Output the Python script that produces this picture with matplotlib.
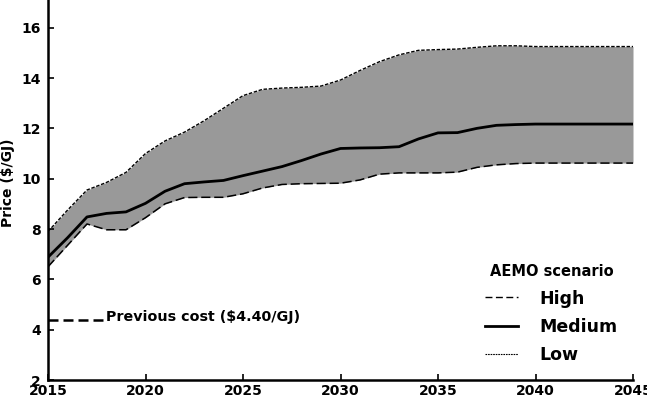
import numpy as np
import matplotlib
matplotlib.use("Agg")
import matplotlib.pyplot as plt
from matplotlib.lines import Line2D

plt.rcParams['font.family'] = ['DejaVu Sans']
plt.rcParams['font.weight'] = 'bold'

# data
years = list(range(2015, 2046))
upper = [7.9, 8.75, 9.55, 9.85, 10.25, 11.0, 11.5, 11.85, 12.3, 12.8,
         13.3, 13.55, 13.6, 13.63, 13.68, 13.92, 14.3, 14.65, 14.92, 15.1,
         15.13, 15.15, 15.22, 15.28, 15.28, 15.25, 15.25, 15.25, 15.25, 15.25, 15.25]
medium = [6.88, 7.65, 8.48, 8.62, 8.68, 9.02, 9.5, 9.8, 9.87, 9.93,
          10.12, 10.3, 10.48, 10.72, 10.98, 11.2, 11.22, 11.23, 11.27, 11.58,
          11.82, 11.83, 12.0, 12.12, 12.15, 12.17, 12.17, 12.17, 12.17, 12.17, 12.17]
lower = [6.5, 7.35, 8.2, 7.97, 7.97, 8.45, 9.0, 9.25, 9.26, 9.26,
         9.4, 9.63, 9.77, 9.8, 9.81, 9.82, 9.95, 10.18, 10.23, 10.23,
         10.23, 10.26, 10.45, 10.55, 10.6, 10.62, 10.62, 10.62, 10.62, 10.62, 10.62]
previous_cost = 4.4
prev_years = [2015, 2017.85]

fig = plt.figure(figsize=(6.47, 3.98), dpi=100)
ax = fig.add_axes([48 / 647, 1 - 380 / 398, 585 / 647, 380 / 398])

ax.fill_between(years, lower, upper, color='#999999', lw=0)
ax.plot(years, upper, color='black', lw=1.0, dashes=(2.5, 1.2))
ax.plot(years, medium, color='black', lw=2.0, solid_capstyle='butt')
ax.plot(years, lower, color='black', lw=1.1, dashes=(6, 2.5))

ax.plot(prev_years, [previous_cost] * 2, color='black', lw=1.8, dashes=(4, 2))
ax.text(2018.0, previous_cost + 0.1, 'Previous cost ($4.40/GJ)', fontsize=10.3,
        fontweight='bold', va='center', ha='left')

ax.set_xlim(2015, 2045)
ax.set_ylim(2, 17.1)
ax.set_xticks([2015, 2020, 2025, 2030, 2035, 2040, 2045])
ax.set_yticks([2, 4, 6, 8, 10, 12, 14, 16])
ax.tick_params(direction='in', length=4, width=1.2, labelsize=10)
ax.tick_params(axis='x', pad=3)
ax.tick_params(axis='y', pad=5)
for lab in ax.get_xticklabels() + ax.get_yticklabels():
    lab.set_fontweight('bold')
for s in ['top', 'right']:
    ax.spines[s].set_visible(False)
for s in ['left', 'bottom']:
    ax.spines[s].set_linewidth(1.8)

ax.set_ylabel('Price ($/GJ)', fontsize=10, fontweight='bold')
ax.yaxis.set_label_coords(-0.056, 0.52)

handles = [Line2D([], [], color='black', lw=1.0, dashes=(5, 2.5)),
           Line2D([], [], color='black', lw=2.0),
           Line2D([], [], color='black', lw=0.8, dashes=(1.5, 0.8))]
leg = ax.legend(handles, ['High', 'Medium', 'Low'], title='AEMO scenario',
                loc='lower right', bbox_to_anchor=(1.0, 0.0), frameon=False,
                prop={'size': 12.5, 'weight': 'bold'}, handlelength=1.9,
                handletextpad=1.2, labelspacing=0.6)
leg.get_title().set_fontsize(10.5)
leg.get_title().set_fontweight('bold')

fig.savefig('out.png', dpi=100)
